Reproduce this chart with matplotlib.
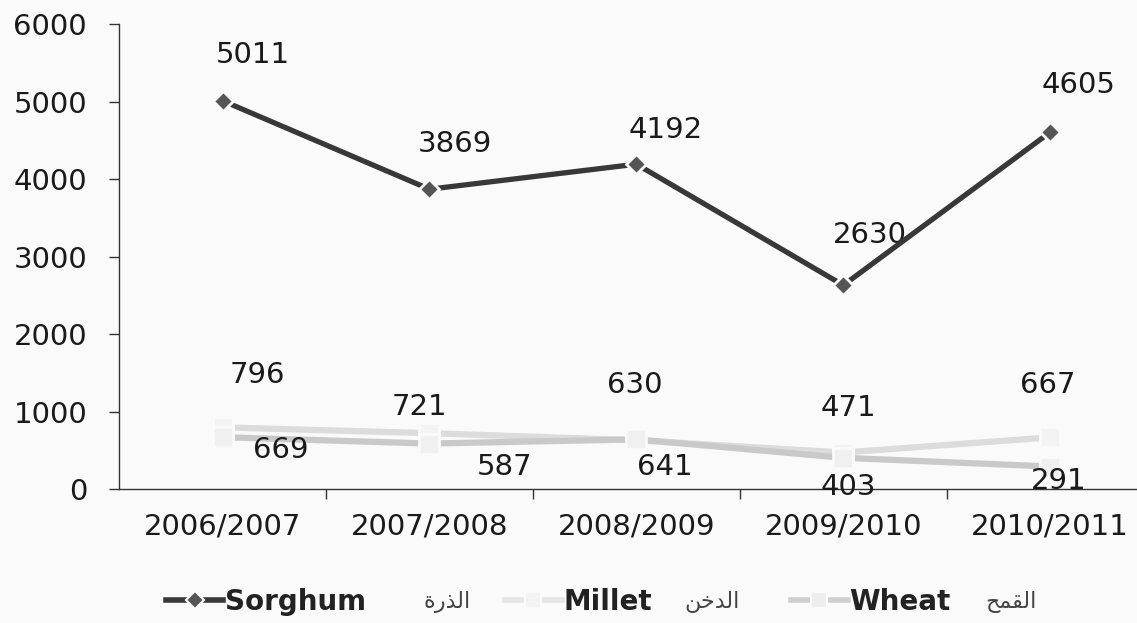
import numpy as np
import matplotlib.pyplot as plt
from matplotlib.lines import Line2D

plt.rcParams['font.family'] = ['DejaVu Sans']

# data
seasons = ["2006/2007", "2007/2008", "2008/2009", "2009/2010", "2010/2011"]
sorghum = [5011, 3869, 4192, 2630, 4605]
millet = [796, 721, 630, 471, 667]
wheat = [669, 587, 641, 403, 291]
names_en = ["Sorghum", "Millet", "Wheat"]
names_ar = ["الذرة", "الدخن", "القمح"]

# label offsets in pixels (x right, y up)
sorghum_off = [(30, 46), (25, 45), (29, 34), (27, 50), (28, 47)]
millet_off = [(35, 52), (-10, 26), (-2, 55), (5, 45), (-2, 52)]
wheat_off = [(58, -13), (75, -23), (28, -28), (5, -29), (8, -14)]
ar_gap = [58, 33, 35]

# tiny arabic shaper (presentation forms, visual order)
FORMS = {
    "ا": ("\uFE8D", "\uFE8E", None, None),
    "ل": ("\uFEDD", "\uFEDE", "\uFEDF", "\uFEE0"),
    "ذ": ("\uFEAB", "\uFEAC", None, None),
    "ر": ("\uFEAD", "\uFEAE", None, None),
    "ة": ("\uFE93", "\uFE94", None, None),
    "د": ("\uFEA9", "\uFEAA", None, None),
    "خ": ("\uFEA5", "\uFEA6", "\uFEA7", "\uFEA8"),
    "ن": ("\uFEE5", "\uFEE6", "\uFEE7", "\uFEE8"),
    "ق": ("\uFED5", "\uFED6", "\uFED7", "\uFED8"),
    "م": ("\uFEE1", "\uFEE2", "\uFEE3", "\uFEE4"),
    "ح": ("\uFEA1", "\uFEA2", "\uFEA3", "\uFEA4"),
}


def shape(word):
    out = []
    for i, ch in enumerate(word):
        prev_joins = i > 0 and FORMS[word[i - 1]][2] is not None
        next_ok = i < len(word) - 1 and FORMS[ch][2] is not None
        iso, fin, ini, med = FORMS[ch]
        if prev_joins and next_ok:
            out.append(med)
        elif prev_joins:
            out.append(fin)
        elif next_ok:
            out.append(ini)
        else:
            out.append(iso)
    return "".join(reversed(out))


fig = plt.figure(figsize=(11.37, 6.23), dpi=100, facecolor="#fafafa")
ax = fig.add_axes([0.1047, 0.215, 0.910, 0.7464])
ax.set_facecolor("#fafafa")

x = np.arange(len(seasons))
ax.plot(x, sorghum, color="#383838", lw=3.8, marker="D", ms=10,
        mfc="#555555", mec="#fafafa", mew=2, zorder=4)
ax.plot(x, millet, color="#dcdcdc", lw=4.5, marker="s", ms=14,
        mfc="#f3f3f3", mec="#fafafa", mew=2, zorder=3)
ax.plot(x, wheat, color="#c9c9c9", lw=4.5, marker="s", ms=14,
        mfc="#f0f0f0", mec="#fafafa", mew=2, zorder=3)

lab_kw = dict(textcoords="offset pixels", ha="center", va="center",
              fontsize=21, color="#1a1a1a")
for vals, offs in [(sorghum, sorghum_off), (millet, millet_off), (wheat, wheat_off)]:
    for xi, v, off in zip(x, vals, offs):
        ax.annotate(str(v), (xi, v), xytext=off, **lab_kw)

ax.set_xlim(-0.5, len(seasons) - 0.5)
ax.set_ylim(0, 6000)
ax.set_yticks(range(0, 6001, 1000))
ax.set_xticks(x + 0.5)
ax.set_xticklabels([])
ax.set_xticks(x, minor=True)
ax.set_xticklabels(seasons, minor=True)
ax.tick_params(axis="x", which="major", direction="out", length=7, width=1, color="#333333")
ax.tick_params(axis="x", which="minor", length=0, pad=17, labelsize=21, labelcolor="#1a1a1a")
ax.tick_params(axis="y", direction="out", length=7, width=1, pad=16,
               labelsize=21, labelcolor="#1a1a1a", color="#333333")
for s in ["top", "right"]:
    ax.spines[s].set_visible(False)
for s in ["left", "bottom"]:
    ax.spines[s].set_color("#333333")
    ax.spines[s].set_linewidth(1)

handles = [
    Line2D([], [], color="#383838", lw=4, marker="D", ms=9, mfc="#555555", mec="#fafafa", mew=1.5),
    Line2D([], [], color="#e6e6e6", lw=4, marker="s", ms=11, mfc="#f3f3f3", mec="#fafafa", mew=1.5),
    Line2D([], [], color="#cfcfcf", lw=4, marker="s", ms=11, mfc="#ededed", mec="#fafafa", mew=1.5),
]
leg = fig.legend(handles, names_en, loc="center", bbox_to_anchor=(0.491, 0.034), ncol=3,
                 frameon=False, prop={"size": 20, "weight": "bold"}, handlelength=2.05,
                 handletextpad=0.05, columnspacing=5.0, labelcolor="#222222")

fig.canvas.draw()
inv = fig.transFigure.inverted()
for t, ar, gap in zip(leg.get_texts(), names_ar, ar_gap):
    bb = t.get_window_extent()
    px, py = inv.transform((bb.x1 + gap, (bb.y0 + bb.y1) / 2))
    fig.text(px, py, shape(ar), fontsize=16, color="#444444", ha="left", va="center")

fig.savefig("out.png", dpi=100, facecolor=fig.get_facecolor())
